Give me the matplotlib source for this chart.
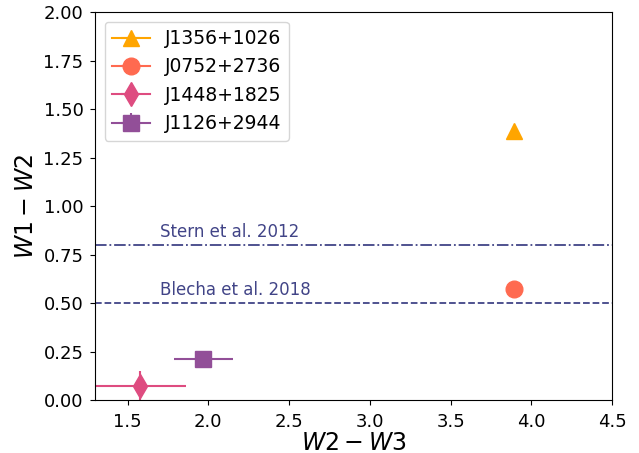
import numpy as np
import matplotlib
matplotlib.use('Agg')
import matplotlib.pyplot as plt

# objetos e cores medidas
nomes = ['J1356+1026', 'J0752+2736', 'J1448+1825', 'J1126+2944']
w23 = [3.89, 3.89, 1.58, 1.97]
w12 = [1.39, 0.575, 0.07, 0.21]
erro_x = [0.0, 0.0, 0.28, 0.18]
erro_y = [None, None, 0.08, 0.02]
marcadores = ['^', 'o', 'd', 's']
cores = ['#FFA500', '#FF6A50', '#DE4C80', '#924F98']

# cortes de AGN da literatura
cortes = [0.8, 0.5]
cortes_nome = ['Stern et al. 2012', 'Blecha et al. 2018']
cortes_estilo = ['-.', '--']
cor_linha = '#414487'

fig = plt.figure(figsize=(6.39, 4.53), dpi=100)
ax = fig.add_axes([0.149, 0.117, 0.809, 0.856])

for i in range(len(nomes)):
    ax.errorbar(w23[i], w12[i], xerr=erro_x[i], yerr=erro_y[i],
                marker=marcadores[i], color=cores[i], markersize=12,
                elinewidth=1.5, capsize=0, label=nomes[i])

for y, nome, estilo in zip(cortes, cortes_nome, cortes_estilo):
    ax.axhline(y, color=cor_linha, linestyle=estilo, linewidth=1.3)
    ax.text(1.7, y + 0.04, nome, color=cor_linha, fontsize=12)

ax.set_xlim(1.3, 4.5)
ax.set_ylim(0, 2.0)
ax.set_yticks(np.arange(0, 2.01, 0.25))
ax.set_xlabel('$W2-W3$', fontsize=17, labelpad=0)
ax.set_ylabel('$W1-W2$', fontsize=17)
ax.tick_params(labelsize=13)
ax.tick_params(axis='x', pad=6)
ax.tick_params(axis='y', pad=5)
ax.legend(loc='upper left', fontsize=13.5, handlelength=2.0)

fig.savefig('out.png', dpi=100)
